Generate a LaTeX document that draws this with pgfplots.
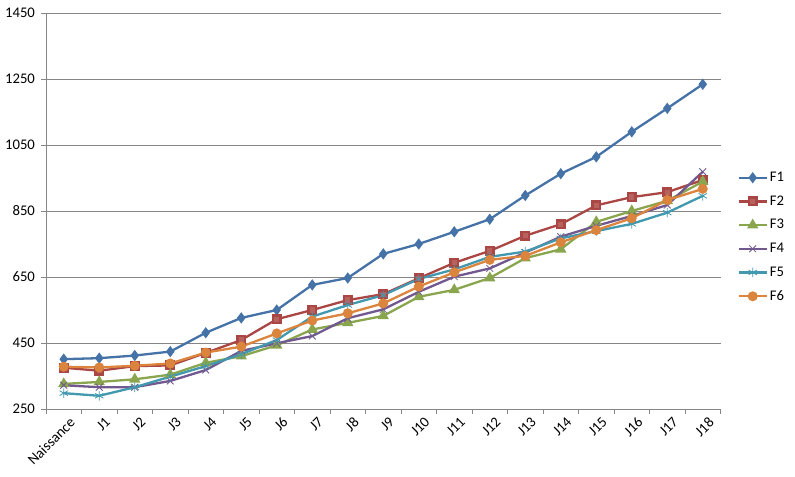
\documentclass[border=0pt]{standalone}
\usepackage{pgfplots}
\pgfplotsset{compat=1.18}
\usepackage{pgfplotstable}
\usepackage{fontspec}
\setmainfont{Carlito}
\definecolor{cF1}{HTML}{4572A7}
\definecolor{cF2}{HTML}{AA4643}
\definecolor{cF3}{HTML}{89A54E}
\definecolor{cF4}{HTML}{71588F}
\definecolor{cF5}{HTML}{4198AF}
\definecolor{cF6}{HTML}{DB843D}
\definecolor{gridc}{HTML}{868686}
\pgfplotstableread{
x F1 F2 F3 F4 F5 F6
0 401 375 326 322 298 378
1 404 366 332 316 290 376
2 412 380 340 316 316 381
3 424 382 354 335 348 388
4 481 420 390 368 380 421
5 526 459 410 426 416 439
6 550 522 443 449 459 479
7 626 550 491 471 530 518
8 647 580 511 525 565 540
9 720 598 532 552 595 570
10 750 646 590 605 644 621
11 787 693 611 651 673 664
12 825 729 647 676 711 702
13 897 775 707 724 727 714
14 963 810 734 772 767 755
15 1014 867 817 805 789 792
16 1090 892 850 835 811 828
17 1161 907 881 868 845 883
18 1234 944 939 969 896 917
}\data
\begin{document}
\fontsize{14.7bp}{17bp}\selectfont
\begin{tikzpicture}[x=1bp,y=1bp]
\useasboundingbox (0,0) rectangle (795,477);
\begin{axis}[
  at={(46bp,68bp)}, anchor=south west,
  scale only axis, width=674.5bp, height=396bp,
  xmin=-0.5, xmax=18.5, ymin=250, ymax=1450,
  ytick={250,450,...,1450},
  xtick={0,...,18},
  xticklabels={Naissance,J1,J2,J3,J4,J5,J6,J7,J8,J9,J10,J11,J12,J13,J14,J15,J16,J17,J18},
  minor xtick={-0.5,0.5,...,18.5},
  major x tick style={draw=none},
  minor x tick style={draw=gridc, line width=0.8bp},
  major y tick style={draw=gridc, line width=0.8bp},
  tick align=outside,
  major tick length=5bp, minor tick length=5bp,
  axis x line*=bottom, axis y line*=left,
  axis line style={draw=gridc, line width=0.8bp, -},
  ymajorgrids, grid style={draw=gridc, line width=0.8bp},
  /pgf/number format/assume math mode=true,
  /pgf/number format/1000 sep={},
  tick label style={font=\fontsize{14.7bp}{17bp}\selectfont, text=black},
  yticklabel style={xshift=-1bp},
  xticklabel style={rotate=45, anchor=north east, inner sep=1bp, yshift=-4bp, xshift=3bp},
  legend style={at={(1.025,0.434)}, anchor=west, draw=none, fill=none,
    font=\fontsize{14.7bp}{17bp}\selectfont, row sep=8bp, inner sep=0pt,
    /tikz/every even column/.append style={column sep=2bp}},
  legend cell align=left,
  legend image code/.code={\draw[mark repeat=2,mark phase=2] plot coordinates {(0bp,0bp)(14bp,0bp)(28bp,0bp)};},
  every axis plot/.append style={line width=2.3bp},
]
\addplot[color=cF1, mark=diamond*, mark size=3.8bp] table[x=x,y=F1]{\data};
\addplot[color=cF2, mark=square*, mark size=3.8bp, mark options={fill=cF2!85!white}] table[x=x,y=F2]{\data};
\addplot[color=cF3, mark=triangle*, mark size=4.3bp] table[x=x,y=F3]{\data};
\addplot[color=cF4, mark=x, mark size=4.8bp, mark options={line width=0.8bp}] table[x=x,y=F4]{\data};
\addplot[color=cF5, mark=asterisk, mark size=4.8bp, mark options={line width=0.8bp}] table[x=x,y=F5]{\data};
\addplot[color=cF6, mark=*, mark size=3.8bp] table[x=x,y=F6]{\data};
\legend{F1,F2,F3,F4,F5,F6}
\end{axis}
\end{tikzpicture}
\end{document}
